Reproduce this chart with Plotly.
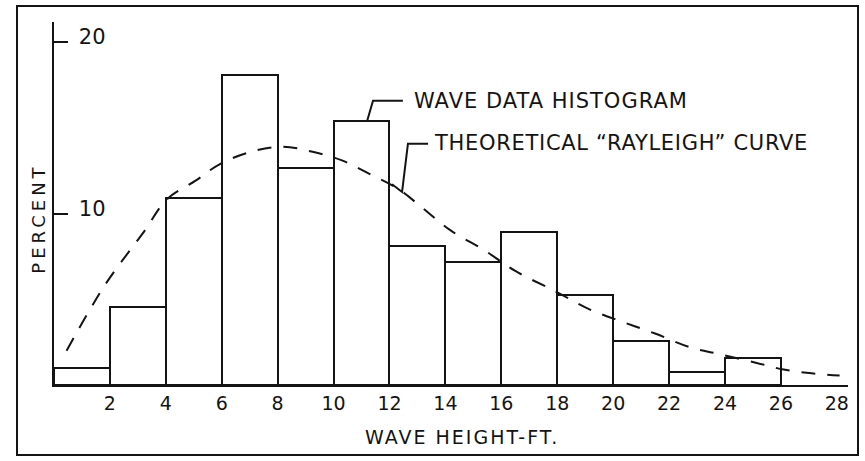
import numpy as np
import plotly.graph_objects as go

# ---- data ----
bin_left = [0, 2, 4, 6, 8, 10, 12, 14, 16, 18, 20, 22, 24]
bin_width = 2
hist_pct = [1.0, 4.55, 10.9, 18.1, 12.65, 15.4, 8.1, 7.2, 8.9, 5.25, 2.55, 0.75, 1.6]

curve_x = [0.45, 1.85, 3.2, 4.05, 5.05, 5.95, 7.05, 8.15, 9.25, 10.3, 11.3, 12.3,
           13.2, 14.2, 15.4, 16.5, 17.95, 19.1, 20.3, 21.5, 22.75, 23.8, 25.1,
           26.1, 27.1, 28.1]
curve_y = [2.0, 5.9, 8.9, 10.85, 11.9, 12.9, 13.6, 13.9, 13.6, 13.1, 12.3, 11.45,
           10.3, 9.0, 7.85, 6.65, 5.45, 4.45, 3.7, 3.0, 2.2, 1.8, 1.3,
           0.9, 0.68, 0.55]

x_ticks = [2, 4, 6, 8, 10, 12, 14, 16, 18, 20, 22, 24, 26, 28]
x_ticktext = [str(v) for v in x_ticks]
y_ticks = [10, 20]
y_ticktext = ["10", "20"]

label_hist = "WAVE DATA HISTOGRAM"
label_curve = "THEORETICAL \u201cRAYLEIGH\u201d CURVE"
x_title = "WAVE HEIGHT-FT."
y_title = "PERCENT"

FONT = "DejaVu Sans"
INK = "#141414"


def spaced(text, px):
    return f"<span style='letter-spacing:{px}px'>{text}</span>"


centers = [l + bin_width / 2 for l in bin_left]

fig = go.Figure()
fig.add_trace(go.Bar(
    x=centers, y=hist_pct, width=[bin_width] * len(centers),
    marker=dict(color="white", line=dict(color=INK, width=2)),
    showlegend=False, hoverinfo="skip",
))
fig.add_trace(go.Scatter(
    x=curve_x, y=curve_y, mode="lines",
    line=dict(color=INK, width=2, dash="14px,12px", shape="spline"),
    showlegend=False, hoverinfo="skip",
))

# leader lines tied to the data
bar_idx = bin_left.index(10)
hist_tip = (centers[bar_idx], hist_pct[bar_idx])
curve_tip_x = 12.45
curve_tip_y = float(np.interp(curve_tip_x, curve_x, curve_y))

txt1 = (12.8, 16.58)
txt2 = (13.52, 14.13)

shapes = [
    dict(type="path", xref="x", yref="y",
         path=f"M {txt1[0]-0.32},{txt1[1]} L {hist_tip[0]+0.41},{txt1[1]} L {hist_tip[0]+0.2},{hist_tip[1]}",
         line=dict(color=INK, width=2)),
    dict(type="path", xref="x", yref="y",
         path=f"M {txt2[0]-0.14},{txt2[1]-0.06} L {txt2[0]-0.86},{txt2[1]-0.06} L {curve_tip_x},{curve_tip_y} L {curve_tip_x-0.36},{curve_tip_y+0.45}",
         line=dict(color=INK, width=2)),
    # outer frame of the figure
    dict(type="rect", xref="paper", yref="paper",
         x0=-0.0466, x1=1.0126, y0=-0.1928, y1=1.044,
         line=dict(color=INK, width=2)),
]

annotations = [
    dict(x=txt1[0], y=txt1[1], xref="x", yref="y", text=spaced(label_hist, 1),
         showarrow=False, xanchor="left", yanchor="middle",
         font=dict(family=FONT, size=21, color=INK)),
    dict(x=txt2[0], y=txt2[1], xref="x", yref="y", text=spaced(label_curve, 0.7),
         showarrow=False, xanchor="left", yanchor="middle",
         font=dict(family=FONT, size=21, color=INK)),
    dict(x=0.514, y=-0.143, xref="paper", yref="paper", text=spaced(x_title, 2),
         showarrow=False, xanchor="center", yanchor="middle",
         font=dict(family=FONT, size=19, color=INK)),
    dict(x=-0.0195, y=0.457, xref="paper", yref="paper", text=spaced(y_title, 4),
         showarrow=False, xanchor="center", yanchor="middle", textangle=-90,
         font=dict(family=FONT, size=18, color=INK)),
]

fig.update_layout(
    width=865, height=461,
    margin=dict(l=54, r=17, t=22, b=76),
    paper_bgcolor="white", plot_bgcolor="white",
    bargap=0,
    shapes=shapes, annotations=annotations,
    font=dict(family=FONT, color=INK),
)
fig.update_xaxes(
    range=[0, 28.4], showgrid=False, zeroline=False,
    showline=True, linecolor=INK, linewidth=2,
    tickvals=x_ticks, ticktext=x_ticktext, ticks="",
    tickfont=dict(family=FONT, size=19, color=INK),
)
fig.update_yaxes(
    range=[0, 21.17], showgrid=False, zeroline=False,
    showline=True, linecolor=INK, linewidth=2,
    tickvals=y_ticks, ticktext=y_ticktext,
    ticks="inside", ticklen=14, tickwidth=2, tickcolor=INK,
    ticklabelposition="inside", ticklabelstandoff=12, ticklabelshift=-5,
    tickfont=dict(family=FONT, size=21, color=INK),
)

fig.write_html("out.html")
